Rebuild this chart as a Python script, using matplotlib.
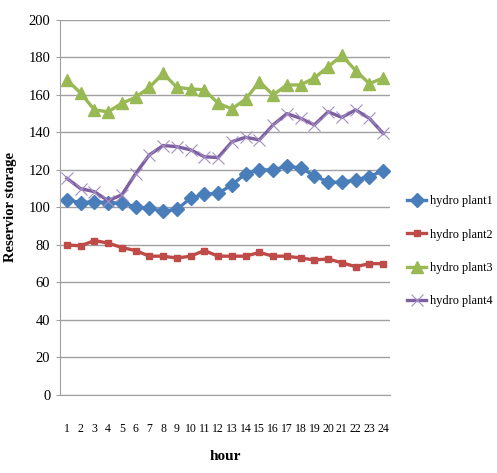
import matplotlib.pyplot as plt

plt.rcParams['font.family'] = ['Liberation Serif', 'DejaVu Serif']

hours = list(range(1, 25))
hour_labels = [str(h) for h in hours]

plant1 = [104, 102.6, 103, 102.6, 102.2, 100.4, 99.5, 98, 99, 104.9, 107, 107.5,
          112, 118, 120, 120, 122, 121, 117, 113.4, 113.4, 114.7, 116.4, 119.6]
plant2 = [80, 79.5, 82.3, 81, 78.6, 77, 74, 74, 73, 74, 77, 74,
          74, 74, 76, 74, 74, 73, 72, 72.5, 70.5, 68.4, 70, 70]
plant3 = [168, 161, 152, 151, 155.5, 158.7, 164, 171.5, 164, 163.2, 162.7, 155.5,
          152.5, 157.7, 167, 160, 165.3, 165.3, 169, 175, 181, 173, 166, 169]
plant4 = [115.5, 110, 108.4, 103.6, 106.7, 118, 128, 133, 132.4, 130.7, 127, 126.6,
          135, 137.4, 136, 144, 150, 147.5, 144, 151, 148, 152, 147.5, 139.5]

series_names = ["hydro plant1", "hydro plant2", "hydro plant3", "hydro plant4"]

fig = plt.figure(figsize=(4.97, 4.73), dpi=100)
ax = fig.add_axes([0.1207, 0.165, 0.664, 0.793])

# -------------------------------
# Lines
# -------------------------------
ax.plot(hours, plant1, color="#4a7ebb", lw=2.4, marker="D", ms=7, label=series_names[0])
ax.plot(hours, plant2, color="#be4b48", lw=2.4, marker="s", ms=4.5, label=series_names[1])
ax.plot(hours, plant3, color="#98b954", lw=2.4, marker="^", ms=8, label=series_names[2])
ax.plot(hours, plant4, color="#7d60a0", lw=2.4, marker="x", ms=8, mew=0.8,
        mec="#a58fc4", label=series_names[3])

# -------------------------------
# Axes styling
# -------------------------------
ax.set_xlim(0.5, 24.5)
ax.set_ylim(0, 200)
ax.set_yticks(range(0, 201, 20))
ax.set_xticks(hours)
ax.set_xticklabels(hour_labels)
ax.yaxis.grid(True, color="#a0a0a0", lw=1)
ax.set_axisbelow(True)
for side in ["top", "right"]:
    ax.spines[side].set_visible(False)
for side in ["left", "bottom"]:
    ax.spines[side].set_color("#a0a0a0")
ax.tick_params(axis="y", length=3, color="#a0a0a0", labelsize=10.5, pad=4)
ax.tick_params(axis="x", length=0, labelsize=8.5, pad=20)

ax.set_xlabel("hour", fontsize=11, fontweight="bold", labelpad=11)
ax.set_ylabel("Reservior storage", fontsize=10.5, fontweight="bold", labelpad=8)

ax.legend(loc="center left", bbox_to_anchor=(1.036, 0.383), frameon=False,
          fontsize=8.8, handlelength=1.6, handletextpad=0.3, labelspacing=1.75,
          borderaxespad=0)

plt.savefig("out.png", dpi=100)
plt.close()
